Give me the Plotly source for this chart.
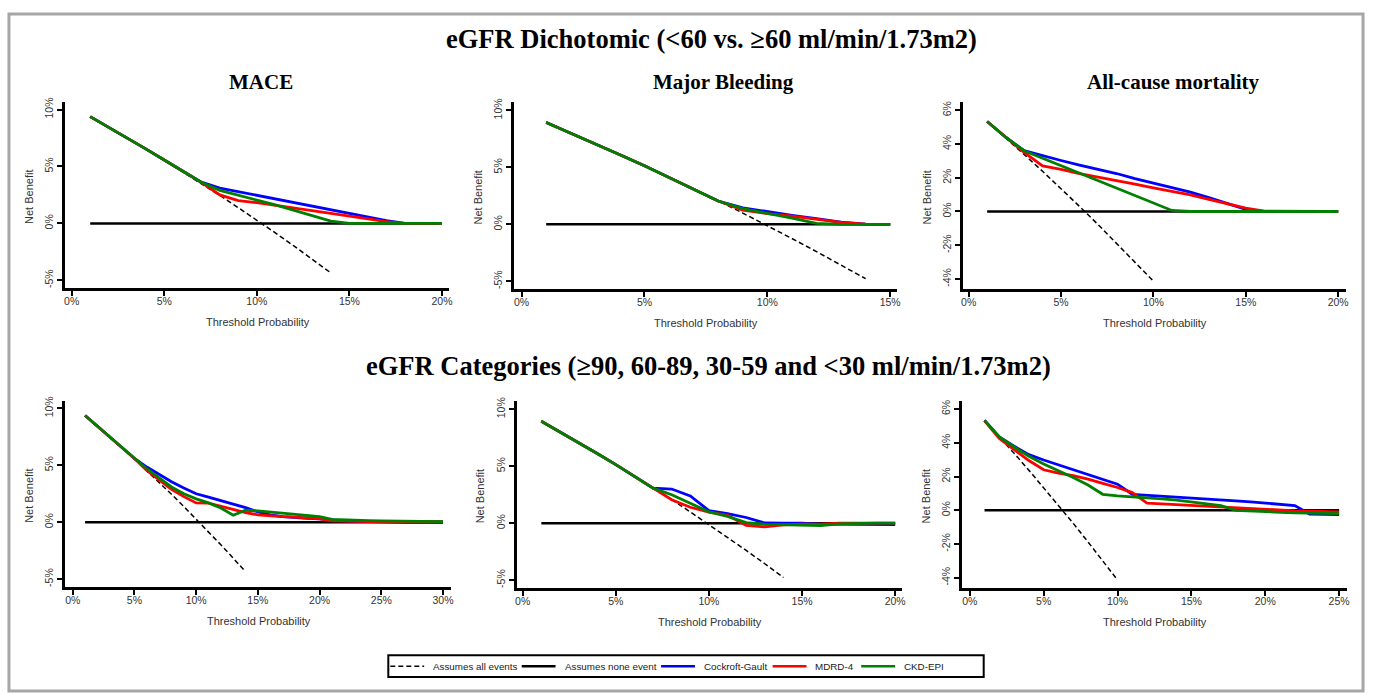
import plotly.graph_objects as go

W, H = 1374, 694

# ---------------- data (net benefit, %) ----------------
# Panel 1: eGFR dichotomic - MACE
all_x_p1 = [1, 2, 3, 4, 5, 6, 7, 8, 9, 10, 11, 12, 13, 14]
all_y_p1 = [9.35, 8.43, 7.48, 6.52, 5.54, 4.53, 3.51, 2.46, 1.38, 0.29, -0.83, -1.98, -3.15, -4.35]
none_x_p1 = [1, 20]
thr_p1 = [1, 2, 3, 4, 5, 6, 7, 8, 9, 10, 11, 12, 13, 14, 15, 16, 17, 18, 19, 20]
cg_p1 = [9.38, 8.45, 7.5, 6.55, 5.57, 4.6, 3.62, 3.1, 2.78, 2.45, 2.12, 1.8, 1.47, 1.15, 0.84, 0.53, 0.25, 0.0, 0.0, 0.0]
mdrd_p1 = [9.38, 8.45, 7.5, 6.55, 5.57, 4.6, 3.6, 2.5, 2.0, 1.82, 1.6, 1.36, 1.12, 0.88, 0.64, 0.4, 0.15, 0.0, 0.0, 0.0]
ckd_p1 = [9.38, 8.45, 7.5, 6.55, 5.57, 4.6, 3.62, 2.9, 2.45, 2.05, 1.62, 1.15, 0.65, 0.2, 0.0, 0.0, 0.0, 0.0, 0.0, 0.0]

# Panel 2: eGFR dichotomic - Major Bleeding
all_x_p2 = [1, 2, 3, 4, 5, 6, 7, 8, 9, 10, 11, 12, 13, 14]
all_y_p2 = [8.99, 8.06, 7.11, 6.15, 5.16, 4.15, 3.12, 2.07, 0.99, -0.11, -1.24, -2.39, -3.56, -4.77]
none_x_p2 = [1, 15]
thr_p2 = [1, 2, 3, 4, 5, 6, 7, 8, 9, 10, 11, 12, 13, 14, 15]
cg_p2 = [8.95, 8.02, 7.08, 6.12, 5.14, 4.13, 3.1, 2.05, 1.45, 1.1, 0.8, 0.5, 0.2, 0.02, 0.0]
mdrd_p2 = [8.95, 8.02, 7.08, 6.12, 5.14, 4.13, 3.1, 2.05, 1.25, 0.95, 0.72, 0.45, 0.18, 0.02, 0.0]
ckd_p2 = [8.95, 8.02, 7.08, 6.12, 5.14, 4.13, 3.1, 2.05, 1.38, 0.98, 0.55, 0.08, 0.0, 0.0, 0.0]

# Panel 3: eGFR dichotomic - All-cause mortality
all_x_p3 = [1, 2, 3, 4, 5, 6, 7, 8, 9, 10]
all_y_p3 = [5.33, 4.37, 3.38, 2.38, 1.35, 0.30, -0.77, -1.87, -2.99, -4.13]
none_x_p3 = [1, 20]
thr_p3 = [1, 2, 3, 4, 5, 6, 7, 8, 9, 10, 11, 12, 13, 14, 15, 16, 17, 18, 19, 20]
cg_p3 = [5.33, 4.4, 3.6, 3.3, 3.02, 2.75, 2.5, 2.25, 1.95, 1.68, 1.42, 1.15, 0.82, 0.48, 0.12, 0.0, 0.0, 0.0, 0.0, 0.0]
mdrd_p3 = [5.33, 4.4, 3.5, 2.7, 2.5, 2.25, 2.05, 1.85, 1.62, 1.4, 1.2, 0.98, 0.72, 0.45, 0.2, 0.02, 0.0, 0.0, 0.0, 0.0]
ckd_p3 = [5.33, 4.4, 3.6, 3.16, 2.72, 2.27, 1.83, 1.38, 0.94, 0.5, 0.06, 0.0, 0.0, 0.0, 0.0, 0.0, 0.0, 0.0, 0.0, 0.0]

# Panel 4: eGFR categories - MACE
all_x_p4 = [1, 2, 3, 4, 5, 6, 7, 8, 9, 10, 11, 12, 13, 14]
all_y_p4 = [9.35, 8.43, 7.48, 6.52, 5.54, 4.53, 3.51, 2.46, 1.38, 0.29, -0.83, -1.98, -3.15, -4.35]
none_x_p4 = [1, 30]
thr_p4 = [1, 2, 3, 4, 5, 6, 7, 8, 9, 10, 11, 12, 13, 14, 15, 16, 17, 18, 19, 20,
          21, 22, 23, 24, 25, 26, 27, 28, 29, 30]
cg_p4 = [9.38, 8.45, 7.5, 6.55, 5.6, 4.85, 4.2, 3.55, 3.0, 2.5, 2.2, 1.9, 1.6, 1.28, 0.9, 0.65, 0.5, 0.4, 0.35, 0.3,
         0.2, 0.12, 0.08, 0.05, 0.03, 0.0, 0.0, 0.0, 0.0, 0.0]
mdrd_p4 = [9.38, 8.45, 7.5, 6.55, 5.6, 4.55, 3.7, 2.9, 2.25, 1.7, 1.68, 1.4, 1.1, 0.85, 0.65, 0.55, 0.5, 0.45, 0.38, 0.3,
           0.12, 0.08, 0.05, 0.05, 0.05, 0.05, 0.05, 0.05, 0.05, 0.05]
ckd_p4 = [9.38, 8.45, 7.5, 6.55, 5.6, 4.7, 3.9, 3.1, 2.5, 2.05, 1.7, 1.25, 0.62, 1.05, 1.0, 0.9, 0.82, 0.72, 0.62, 0.5,
          0.25, 0.2, 0.18, 0.15, 0.12, 0.1, 0.08, 0.06, 0.05, 0.05]

# Panel 5: eGFR categories - Major Bleeding
all_x_p5 = [1, 2, 3, 4, 5, 6, 7, 8, 9, 10, 11, 12, 13, 14]
all_y_p5 = [8.99, 8.06, 7.11, 6.15, 5.16, 4.15, 3.12, 2.07, 0.99, -0.11, -1.24, -2.39, -3.56, -4.77]
none_x_p5 = [1, 20]
thr_p5 = [1, 2, 3, 4, 5, 6, 7, 8, 9, 10, 11, 12, 13, 14, 15, 16, 17, 18, 19, 20]
cg_p5 = [8.95, 8.02, 7.08, 6.12, 5.14, 4.13, 3.08, 3.0, 2.4, 1.1, 0.85, 0.5, 0.02, 0.0, 0.0, -0.08, -0.1, -0.1, -0.12, -0.12]
mdrd_p5 = [8.95, 8.02, 7.08, 6.12, 5.14, 4.13, 3.08, 2.06, 1.4, 0.98, 0.7, -0.2, -0.32, -0.15, -0.08, -0.08, 0.0, 0.0, 0.0, 0.0]
ckd_p5 = [8.95, 8.02, 7.08, 6.12, 5.14, 4.13, 3.08, 2.5, 1.75, 1.0, 0.6, 0.05, -0.1, -0.12, -0.15, -0.2, -0.05, 0.0, 0.0, 0.0]

# Panel 6: eGFR categories - All-cause mortality
all_x_p6 = [1, 2, 3, 4, 5, 6, 7, 8, 9, 10]
all_y_p6 = [5.33, 4.37, 3.38, 2.38, 1.35, 0.30, -0.77, -1.87, -2.99, -4.13]
none_x_p6 = [1, 25]
thr_p6 = [1, 2, 3, 4, 5, 6, 7, 8, 9, 10, 11, 12, 13, 14, 15, 16, 17, 18, 19, 20, 21, 22, 23, 24, 25]
cg_p6 = [5.33, 4.35, 3.8, 3.3, 2.98, 2.7, 2.42, 2.1, 1.83, 1.55, 0.95, 0.9, 0.85, 0.8, 0.75, 0.7, 0.63, 0.56, 0.5, 0.42,
         0.35, 0.28, -0.22, -0.25, -0.25]
mdrd_p6 = [5.3, 4.25, 3.6, 2.95, 2.4, 2.2, 2.05, 1.85, 1.6, 1.35, 1.05, 0.43, 0.38, 0.33, 0.28, 0.23, 0.2, 0.15, 0.1, 0.05,
           0.0, -0.03, -0.05, -0.08, -0.1]
ckd_p6 = [5.33, 4.35, 3.75, 3.2, 2.75, 2.35, 1.95, 1.5, 0.95, 0.85, 0.8, 0.75, 0.68, 0.6, 0.5, 0.4, 0.28, 0.0, -0.05, -0.1,
          -0.12, -0.15, -0.18, -0.2, -0.2]

none_y = [0, 0]

panel_titles = ["MACE", "Major Bleeding", "All-cause mortality"]
row_titles = ["eGFR Dichotomic (<60 vs. \u226560 ml/min/1.73m2)",
              "eGFR Categories (\u226590, 60-89, 30-59 and <30 ml/min/1.73m2)"]
series_names = ["Assumes all events", "Assumes none event", "Cockroft-Gault", "MDRD-4", "CKD-EPI"]
xtick_sets = [[0, 5, 10, 15, 20], [0, 5, 10, 15], [0, 5, 10, 15, 20],
              [0, 5, 10, 15, 20, 25, 30], [0, 5, 10, 15, 20], [0, 5, 10, 15, 20, 25]]
ytick_sets = [[-5, 0, 5, 10], [-5, 0, 5, 10], [-4, -2, 0, 2, 4, 6],
              [-5, 0, 5, 10], [-5, 0, 5, 10], [-4, -2, 0, 2, 4, 6]]

panels = [
    (all_x_p1, all_y_p1, none_x_p1, thr_p1, cg_p1, mdrd_p1, ckd_p1),
    (all_x_p2, all_y_p2, none_x_p2, thr_p2, cg_p2, mdrd_p2, ckd_p2),
    (all_x_p3, all_y_p3, none_x_p3, thr_p3, cg_p3, mdrd_p3, ckd_p3),
    (all_x_p4, all_y_p4, none_x_p4, thr_p4, cg_p4, mdrd_p4, ckd_p4),
    (all_x_p5, all_y_p5, none_x_p5, thr_p5, cg_p5, mdrd_p5, ckd_p5),
    (all_x_p6, all_y_p6, none_x_p6, thr_p6, cg_p6, mdrd_p6, ckd_p6),
]

# ---------------- layout geometry (pixels) ----------------
boxes = [(63, 449, 98, 285), (514, 899, 98, 286), (965, 1350, 98, 286),
         (63, 451, 399, 586), (517, 904, 399, 587), (964, 1351, 399, 587)]
xranges = [[-0.376, 20.38], [-0.32, 15.28], [-0.32, 20.43],
           [-0.65, 30.65], [-0.32, 20.37], [-0.54, 25.54]]
yranges = [[-5.67, 10.64], [-5.67, 10.72], [-4.59, 6.47],
           [-5.67, 10.64], [-5.67, 10.72], [-4.59, 6.47]]


def px(x):
    return x / W


def py(y):
    return 1 - y / H


BLUE, RED, GREEN = "#0000ff", "#ff0000", "#008000"
SANS = "Liberation Sans, Arial, sans-serif"
SERIF = "Liberation Serif, Times New Roman, serif"
styles = [dict(color="black", width=1.5, dash="5px,3px"), dict(color="black", width=2.5),
          dict(color=BLUE, width=2.8), dict(color=RED, width=2.8), dict(color=GREEN, width=2.8)]

fig = go.Figure()
layout = {}
for i, (ax, ay, nx, thr, cg, md, ck) in enumerate(panels):
    n = "" if i == 0 else str(i + 1)
    xa, ya = "x" + n, "y" + n
    series = [(ax, ay), (nx, none_y), (thr, cg), (thr, md), (thr, ck)]
    for k, (sx, sy) in enumerate(series):
        fig.add_trace(go.Scatter(x=sx, y=sy, mode="lines", name=series_names[k], xaxis=xa, yaxis=ya,
                                 line=styles[k], showlegend=False, hoverinfo="skip"))
    l, r, t, b = boxes[i]
    common = dict(showline=True, linecolor="black", linewidth=2.5, ticks="outside", ticklen=5,
                  tickwidth=2, tickcolor="black", showgrid=False, zeroline=False,
                  tickfont=dict(family=SANS, size=10.5, color="#333333"), fixedrange=True)
    layout["xaxis" + n] = dict(domain=[px(l), px(r)], range=xranges[i], anchor=ya, tickmode="array",
                               tickvals=xtick_sets[i], ticktext=[f"{v}%" for v in xtick_sets[i]],
                               ticklabelstandoff=-3, **common)
    layout["yaxis" + n] = dict(domain=[py(b), py(t)], range=yranges[i], anchor=xa, tickmode="array",
                               tickvals=ytick_sets[i], ticktext=[f"{v}%" for v in ytick_sets[i]],
                               tickangle=-90, **common)

annotations = []


def note(text, x, y, size, family, color="black", angle=0, xanchor="center"):
    annotations.append(dict(text=text, x=px(x), y=py(y), xref="paper", yref="paper", showarrow=False,
                            xanchor=xanchor, yanchor="middle", textangle=angle,
                            font=dict(family=family, size=size, color=color)))


# row titles
note("<b>" + row_titles[0] + "</b>", 713, 34, 26.5, SERIF)
note("<b>" + row_titles[1] + "</b>", 710, 364, 26.5, SERIF)
# panel titles (top row only)
for cx, ttl in zip([260, 725, 1177], panel_titles):
    note("<b>" + ttl + "</b>", cx, 78, 21, SERIF)
# axis titles
for (l, r, t, b) in boxes:
    note("Threshold Probability", (l + r) / 2 + 1, b + 34, 11, SANS, "#333333")
    note("Net Benefit", l - 36, (t + b) / 2 + 2, 11, SANS, "#333333", angle=-90)

shapes = [dict(type="rect", xref="paper", yref="paper", x0=px(7), x1=px(1367), y0=py(9), y1=py(691),
               line=dict(color="#a6a6a6", width=3), layer="below")]

# legend (drawn as a boxed key at the bottom)
leg_l, leg_r, leg_t, leg_b = 388, 986, 655, 677
leg_y = (leg_t + leg_b) / 2
shapes.append(dict(type="rect", xref="paper", yref="paper", x0=px(leg_l), x1=px(leg_r),
                   y0=py(leg_b), y1=py(leg_t), line=dict(color="black", width=2), fillcolor="white"))
key_starts = [390, 522, 662, 774, 863]
for k, x0 in enumerate(key_starts):
    st = styles[k]
    shapes.append(dict(type="line", xref="paper", yref="paper", x0=px(x0), x1=px(x0 + 34),
                       y0=py(leg_y), y1=py(leg_y),
                       line=dict(color=st["color"], width=min(st["width"], 2.5),
                                 dash=st.get("dash", "solid"))))
    note(series_names[k], x0 + 41, leg_y, 9.8, SANS, "#1a1a1a", xanchor="left")

fig.update_layout(
    width=W, height=H, margin=dict(l=0, r=0, t=0, b=0),
    paper_bgcolor="white", plot_bgcolor="white",
    annotations=annotations, shapes=shapes, showlegend=False,
    **layout,
)

fig.write_html("out.html", config={"displayModeBar": False},
               post_script="document.body.style.margin='0';document.body.style.overflow='hidden';")
